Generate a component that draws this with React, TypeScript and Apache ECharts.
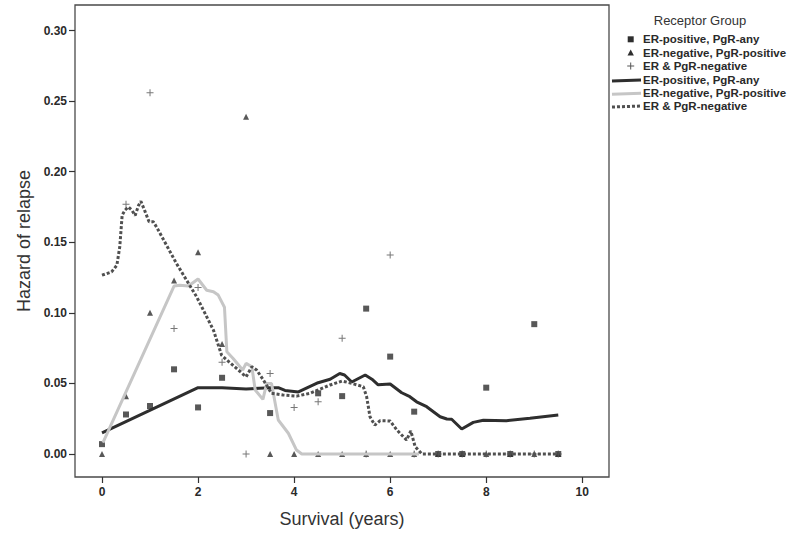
import React, { useEffect, useRef } from "react";
import * as echarts from "echarts";

const xTicks = [0, 2, 4, 6, 8, 10];
const yTicks = [0, 0.05, 0.1, 0.15, 0.2, 0.25, 0.3];

const legendTitle = "Receptor Group";
const groupNames = ["ER-positive, PgR-any", "ER-negative, PgR-positive", "ER & PgR-negative"];

// observed hazard points [years, hazard]
const erPosPoints = [
  [0, 0.007], [0.5, 0.028], [1, 0.034], [1.5, 0.06], [2, 0.033], [2.5, 0.054],
  [3.5, 0.029], [4.5, 0.043], [5, 0.041], [5.5, 0.103], [6, 0.069], [6.5, 0.03],
  [7, 0], [7.5, 0], [8, 0.047], [8.5, 0], [9, 0.092], [9.5, 0],
];
const erNegPgrPosPoints = [
  [0, 0], [0.5, 0.041], [1, 0.1], [1.5, 0.123], [2, 0.143], [2.5, 0.078], [3, 0.239],
  [3.5, 0], [4, 0], [4.5, 0], [5, 0], [5.5, 0], [6, 0], [6.5, 0], [7, 0], [7.5, 0],
  [8, 0], [8.5, 0], [9, 0], [9.5, 0],
];
const erPgrNegPoints = [
  [0.5, 0.177], [1, 0.256], [1.5, 0.089], [2, 0.118], [2.5, 0.065], [3, 0], [3.5, 0.057],
  [4, 0.033], [4.5, 0.037], [5, 0.082], [5.5, 0], [6, 0.141], [6.5, 0], [7, 0], [7.5, 0],
  [8, 0], [8.5, 0], [9, 0], [9.5, 0],
];

// smoothed hazard curves [years, hazard]
const erPosCurve = [
  [0, 0.015], [2, 0.047], [2.5, 0.047], [3, 0.046], [3.5, 0.047], [3.67, 0.047], [3.81, 0.045],
  [4.09, 0.044], [4.5, 0.0505], [4.75, 0.053], [4.95, 0.057], [5.05, 0.056], [5.2, 0.051],
  [5.48, 0.056], [5.62, 0.053], [5.75, 0.049], [6.0, 0.0496], [6.24, 0.0434], [6.41, 0.0406],
  [6.55, 0.037], [6.76, 0.0335], [7.04, 0.0264], [7.18, 0.0248], [7.28, 0.0246], [7.49, 0.0177],
  [7.73, 0.0224], [7.94, 0.0239], [8.42, 0.0236], [8.91, 0.0253], [9.5, 0.0276],
];
const erNegPgrPosCurve = [
  [0.02, 0.008], [1.5, 0.119], [1.62, 0.1196], [1.8, 0.119], [2.0, 0.124], [2.18, 0.116],
  [2.32, 0.115], [2.42, 0.1126], [2.55, 0.104], [2.6, 0.0724], [2.73, 0.0677], [2.93, 0.0595],
  [3.0, 0.0642], [3.12, 0.0618], [3.19, 0.0453], [3.35, 0.0387], [3.43, 0.05], [3.53, 0.05],
  [3.67, 0.0241], [3.88, 0.0147], [4.05, 0.0028], [4.16, 0], [6.6, 0],
];
const erPgrNegCurve = [
  [0, 0.1267], [0.2, 0.129], [0.31, 0.1338], [0.37, 0.1468], [0.42, 0.1692], [0.48, 0.1728],
  [0.55, 0.175], [0.62, 0.1728], [0.69, 0.169], [0.76, 0.176], [0.81, 0.179], [0.9, 0.1715],
  [0.98, 0.1645], [1.07, 0.1645], [1.15, 0.16], [1.55, 0.135], [1.97, 0.1114], [2.32, 0.0878],
  [2.49, 0.07], [2.6, 0.0666], [3.0, 0.0547], [3.12, 0.0618], [3.22, 0.0595], [3.36, 0.0524],
  [3.53, 0.043], [3.77, 0.0418], [4.05, 0.041], [4.33, 0.043], [4.75, 0.0489], [5.0, 0.0517],
  [5.2, 0.05], [5.44, 0.0477], [5.51, 0.0406], [5.58, 0.0264], [5.68, 0.0205], [5.79, 0.0236],
  [6.0, 0.0234], [6.14, 0.017], [6.34, 0.0099], [6.43, 0.0163], [6.52, 0.0052], [6.66, 0], [9.5, 0],
];

const FONT = '"Liberation Sans", Arial, Helvetica, sans-serif';
const PLUS = "path://M0,3H7V4H0ZM3,0H4V7H3Z";
const DARK = "#2e2e2e";
const GREY = "#c6c6c6";
const DOT = "#505050";

export default function App() {
  const ref = useRef<HTMLDivElement>(null);
  useEffect(() => {
    if (!ref.current) return;
    const chart = echarts.init(ref.current, undefined, { renderer: "svg" });
    const legendX = 643;
    const rowY = [39.3, 52.7, 66, 80, 93.3, 106];
    const symX = 630.7;
    const legendText = (i: number, name: string) => ({
      type: "text",
      x: legendX,
      y: rowY[i],
      style: {
        text: name,
        fill: "#2a2a2a",
        font: `bold 11.5px ${FONT}`,
        verticalAlign: "middle",
        align: "left",
      },
    });
    chart.setOption({
      animation: false,
      textStyle: { fontFamily: FONT },
      grid: {
        left: 75,
        top: 5,
        right: 181,
        bottom: 62,
        show: true,
        borderColor: "#4a4a4a",
        borderWidth: 1.3,
        backgroundColor: "#fff",
      },
      xAxis: {
        type: "value",
        min: -0.562,
        max: 10.556,
        name: "Survival (years)",
        nameLocation: "middle",
        nameGap: 33,
        nameTextStyle: { fontSize: 18, color: "#333", fontFamily: FONT },
        axisLine: { show: false, onZero: false },
        splitLine: { show: false },
        axisTick: {
          show: true,
          length: 6,
          lineStyle: { color: "#333", width: 1.2 },
          customValues: xTicks,
        },
        axisLabel: {
          customValues: xTicks,
          color: "#2a2a2a",
          fontSize: 12,
          fontWeight: "bold",
          margin: 9,
          fontFamily: FONT,
        },
      },
      yAxis: {
        type: "value",
        min: -0.01629,
        max: 0.3181,
        name: "Hazard of relapse",
        nameLocation: "middle",
        nameGap: 39,
        nameRotate: 90,
        nameTextStyle: { fontSize: 18, color: "#333", fontFamily: FONT },
        axisLine: { show: false, onZero: false },
        splitLine: { show: false },
        axisTick: {
          show: true,
          length: 6,
          lineStyle: { color: "#333", width: 1.2 },
          customValues: yTicks,
        },
        axisLabel: {
          customValues: yTicks,
          formatter: (v: number) => v.toFixed(2),
          color: "#2a2a2a",
          fontSize: 12,
          fontWeight: "bold",
          margin: 8,
          fontFamily: FONT,
        },
      },
      series: [
        {
          name: groupNames[0],
          type: "scatter",
          data: erPosPoints,
          symbol: "rect",
          symbolSize: 6,
          itemStyle: { color: DARK },
        },
        {
          name: groupNames[1],
          type: "scatter",
          data: erNegPgrPosPoints,
          symbol: "triangle",
          symbolSize: 6,
          itemStyle: { color: DARK },
        },
        {
          name: groupNames[2],
          type: "scatter",
          data: erPgrNegPoints,
          symbol: PLUS,
          symbolSize: 7,
          itemStyle: { color: "#555" },
        },
        {
          name: groupNames[0] + " curve",
          type: "line",
          data: erPosCurve,
          symbol: "none",
          lineStyle: { color: DARK, width: 3 },
        },
        {
          name: groupNames[1] + " curve",
          type: "line",
          data: erNegPgrPosCurve,
          symbol: "none",
          lineStyle: { color: GREY, width: 3 },
        },
        {
          name: groupNames[2] + " curve",
          type: "line",
          data: erPgrNegCurve,
          symbol: "none",
          lineStyle: { color: DOT, width: 3, type: [3, 2] },
        },
      ],
      graphic: [
        {
          type: "text",
          x: 700,
          y: 20,
          style: {
            text: legendTitle,
            fill: "#333",
            font: `13px ${FONT}`,
            align: "center",
            verticalAlign: "middle",
          },
        },
        { type: "rect", shape: { x: symX - 3, y: rowY[0] - 3, width: 6, height: 6 }, style: { fill: DARK } },
        {
          type: "polygon",
          shape: { points: [[symX, rowY[1] - 3.2], [symX + 3.2, rowY[1] + 2.8], [symX - 3.2, rowY[1] + 2.8]] },
          style: { fill: DARK },
        },
        { type: "rect", shape: { x: symX - 3.5, y: rowY[2] - 0.5, width: 7, height: 1 }, style: { fill: "#555" } },
        { type: "rect", shape: { x: symX - 0.5, y: rowY[2] - 3.5, width: 1, height: 7 }, style: { fill: "#555" } },
        {
          type: "line",
          shape: { x1: 612, y1: rowY[3] + 1, x2: 641, y2: rowY[3] },
          style: { stroke: DARK, lineWidth: 3 },
        },
        {
          type: "line",
          shape: { x1: 612, y1: rowY[4] + 1, x2: 641, y2: rowY[4] },
          style: { stroke: GREY, lineWidth: 3 },
        },
        {
          type: "line",
          shape: { x1: 612, y1: rowY[5] + 1, x2: 641, y2: rowY[5] },
          style: { stroke: DOT, lineWidth: 3, lineDash: [3, 2] },
        },
        legendText(0, groupNames[0]),
        legendText(1, groupNames[1]),
        legendText(2, groupNames[2]),
        legendText(3, groupNames[0]),
        legendText(4, groupNames[1]),
        legendText(5, groupNames[2]),
      ],
    });
    return () => chart.dispose();
  }, []);
  return (
    <div
      ref={ref}
      style={{ position: "fixed", left: 0, top: 0, width: 790, height: 539, background: "#fff" }}
    />
  );
}
